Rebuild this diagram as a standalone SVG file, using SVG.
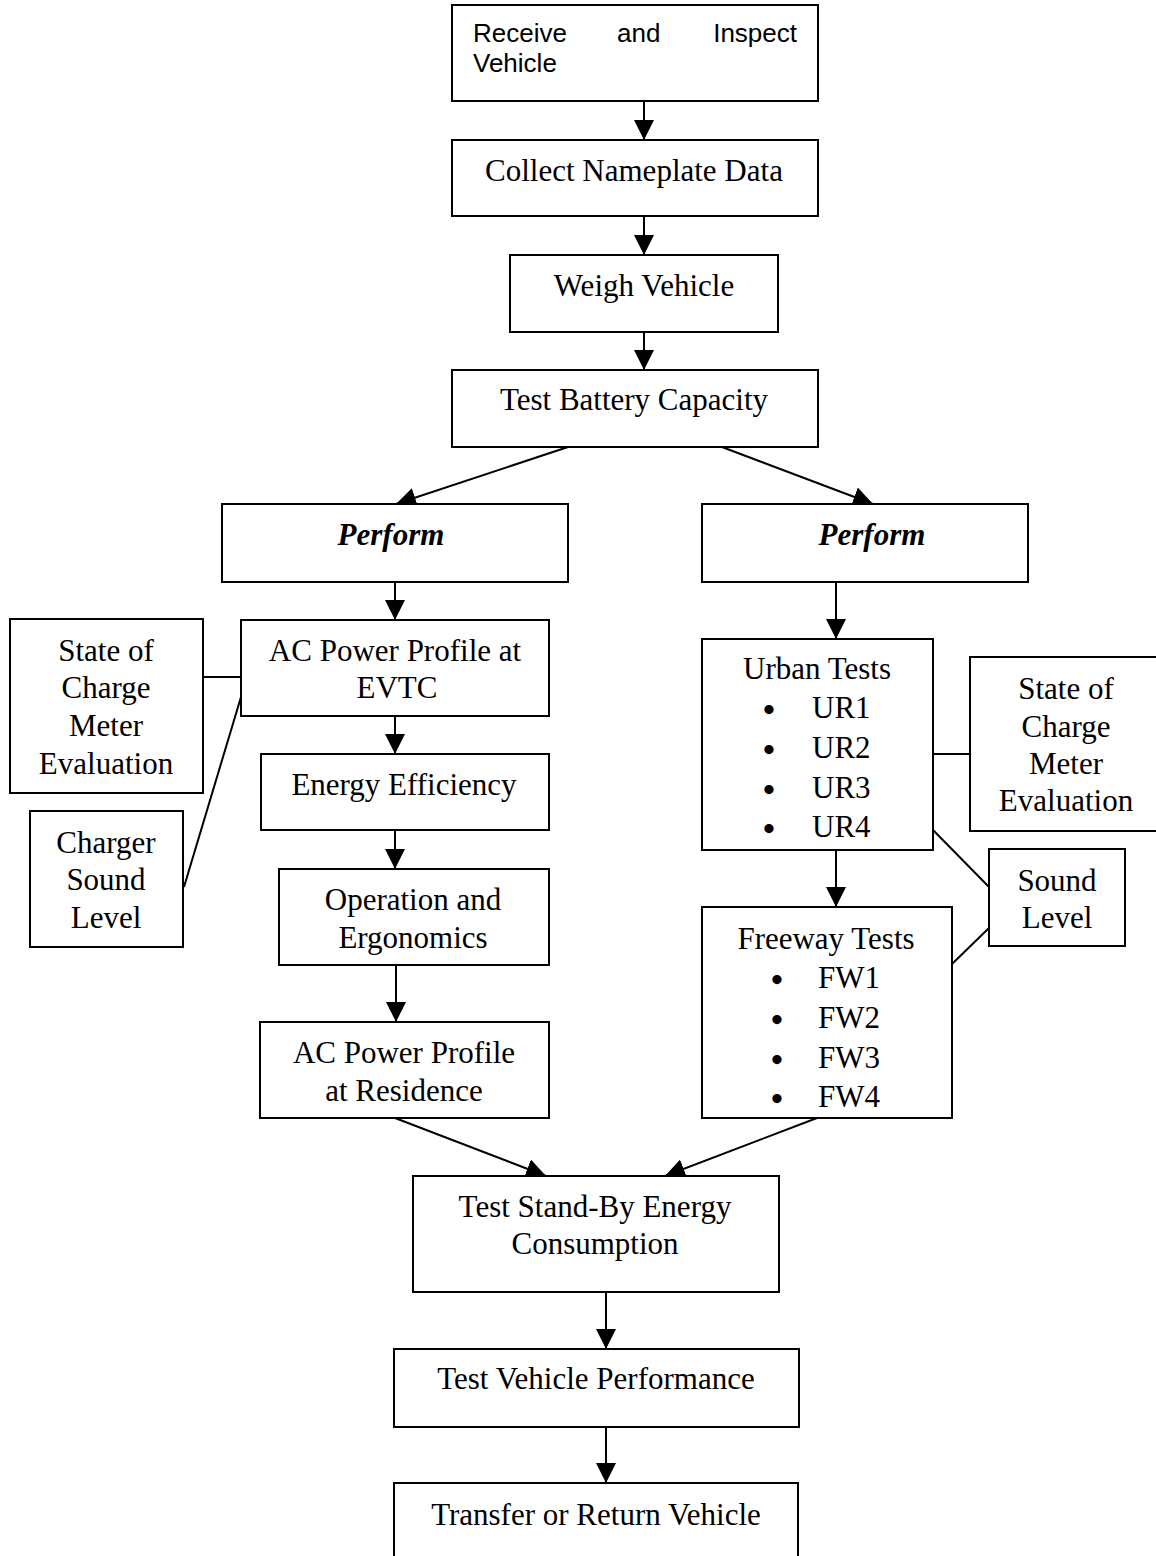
<svg xmlns="http://www.w3.org/2000/svg" width="1156" height="1556" viewBox="0 0 1156 1556">
<style>
.b{fill:#fff;stroke:#000;stroke-width:2}
.t{font-family:"Liberation Serif","Times New Roman",serif;font-size:31px;fill:#000;text-anchor:middle}
.l{font-family:"Liberation Serif","Times New Roman",serif;font-size:31px;fill:#000}
.d{font-size:34px;font-weight:bold}
.a{font-family:"Liberation Sans",Arial,sans-serif;font-size:26px;fill:#000}
.bi{font-weight:bold;font-style:italic}
.c{stroke:#000;stroke-width:2;fill:none}
.ar{marker-end:url(#ah)}
</style>
<defs>
<marker id="ah" markerUnits="userSpaceOnUse" markerWidth="22" markerHeight="22" refX="20" refY="11" orient="auto">
<path d="M0,1 L20,11 L0,21 z" fill="#000"/>
</marker>
</defs>
<rect width="1156" height="1556" fill="#fff"/>
<g id="connectors">
<line class="c ar" x1="644" y1="101" x2="644" y2="140"/>
<line class="c ar" x1="644" y1="216" x2="644" y2="255"/>
<line class="c ar" x1="644" y1="332" x2="644" y2="370"/>
<line class="c ar" x1="568" y1="447" x2="396" y2="504"/>
<line class="c ar" x1="722" y1="447" x2="873" y2="504"/>
<line class="c ar" x1="395" y1="582" x2="395" y2="620"/>
<line class="c ar" x1="395" y1="716" x2="395" y2="754"/>
<line class="c ar" x1="395" y1="830" x2="395" y2="869"/>
<line class="c ar" x1="396" y1="965" x2="396" y2="1022"/>
<line class="c ar" x1="836" y1="582" x2="836" y2="639"/>
<line class="c ar" x1="836" y1="850" x2="836" y2="907"/>
<line class="c ar" x1="395" y1="1118" x2="546" y2="1176"/>
<line class="c ar" x1="817" y1="1118" x2="665" y2="1176"/>
<line class="c ar" x1="606" y1="1292" x2="606" y2="1349"/>
<line class="c ar" x1="606" y1="1427" x2="606" y2="1483"/>
<line class="c" x1="203" y1="677" x2="241" y2="677"/>
<line class="c" x1="184" y1="887" x2="241" y2="697"/>
<line class="c" x1="933" y1="754" x2="970" y2="754"/>
<line class="c" x1="933" y1="830" x2="989" y2="887"/>
<line class="c" x1="952" y1="964" x2="989" y2="928"/>
</g>
<g id="receive">
<rect class="b" x="452" y="5" width="366" height="96"/>
<text class="a" x="473" y="42">Receive</text>
<text class="a" x="617" y="42">and</text>
<text class="a" x="797" y="42" text-anchor="end">Inspect</text>
<text class="a" x="473" y="72">Vehicle</text>
</g>
<g id="collect">
<rect class="b" x="452" y="140" width="366" height="76"/>
<text class="t" x="634" y="181">Collect Nameplate Data</text>
</g>
<g id="weigh">
<rect class="b" x="510" y="255" width="268" height="77"/>
<text class="t" x="644" y="296">Weigh Vehicle</text>
</g>
<g id="battery">
<rect class="b" x="452" y="370" width="366" height="77"/>
<text class="t" x="634" y="410">Test Battery Capacity</text>
</g>
<g id="performL">
<rect class="b" x="222" y="504" width="346" height="78"/>
<text class="t bi" x="391" y="545">Perform</text>
</g>
<g id="performR">
<rect class="b" x="702" y="504" width="326" height="78"/>
<text class="t bi" x="872" y="545">Perform</text>
</g>
<g id="socL">
<rect class="b" x="10" y="619" width="193" height="174"/>
<text class="t" x="106" y="661">State of</text>
<text class="t" x="106" y="698">Charge</text>
<text class="t" x="106" y="736">Meter</text>
<text class="t" x="106" y="774">Evaluation</text>
</g>
<g id="acEVTC">
<rect class="b" x="241" y="620" width="308" height="96"/>
<text class="t" x="395" y="661">AC Power Profile at</text>
<text class="t" x="397" y="698">EVTC</text>
</g>
<g id="charger">
<rect class="b" x="30" y="811" width="153" height="136"/>
<text class="t" x="106" y="853">Charger</text>
<text class="t" x="106" y="890">Sound</text>
<text class="t" x="106" y="928">Level</text>
</g>
<g id="energy">
<rect class="b" x="261" y="754" width="288" height="76"/>
<text class="t" x="404" y="795">Energy Efficiency</text>
</g>
<g id="operation">
<rect class="b" x="279" y="869" width="270" height="96"/>
<text class="t" x="413" y="910">Operation and</text>
<text class="t" x="413" y="948">Ergonomics</text>
</g>
<g id="residence">
<rect class="b" x="260" y="1022" width="289" height="96"/>
<text class="t" x="404" y="1063">AC Power Profile</text>
<text class="t" x="404" y="1101">at Residence</text>
</g>
<g id="urban">
<rect class="b" x="702" y="639" width="231" height="211"/>
<text class="l"><tspan x="817" y="679" text-anchor="middle">Urban Tests</tspan><tspan class="d" x="763" y="721">•</tspan><tspan x="812" y="718">UR1</tspan><tspan class="d" x="763" y="761">•</tspan><tspan x="812" y="758">UR2</tspan><tspan class="d" x="763" y="801">•</tspan><tspan x="812" y="798">UR3</tspan><tspan class="d" x="763" y="840">•</tspan><tspan x="812" y="837">UR4</tspan></text>
</g>
<g id="socR">
<rect class="b" x="970" y="657" width="200" height="174"/>
<text class="t" x="1066" y="699">State of</text>
<text class="t" x="1066" y="737">Charge</text>
<text class="t" x="1066" y="774">Meter</text>
<text class="t" x="1066" y="811">Evaluation</text>
</g>
<g id="sound">
<rect class="b" x="989" y="849" width="136" height="97"/>
<text class="t" x="1057" y="891">Sound</text>
<text class="t" x="1057" y="928">Level</text>
</g>
<g id="freeway">
<rect class="b" x="702" y="907" width="250" height="211"/>
<text class="l"><tspan x="826" y="949" text-anchor="middle">Freeway Tests</tspan><tspan class="d" x="771" y="991">•</tspan><tspan x="818" y="988">FW1</tspan><tspan class="d" x="771" y="1031">•</tspan><tspan x="818" y="1028">FW2</tspan><tspan class="d" x="771" y="1071">•</tspan><tspan x="818" y="1068">FW3</tspan><tspan class="d" x="771" y="1110">•</tspan><tspan x="818" y="1107">FW4</tspan></text>
</g>
<g id="standby">
<rect class="b" x="413" y="1176" width="366" height="116"/>
<text class="t" x="595" y="1217">Test Stand-By Energy</text>
<text class="t" x="595" y="1254">Consumption</text>
</g>
<g id="vehicle">
<rect class="b" x="394" y="1349" width="405" height="78"/>
<text class="t" x="596" y="1389">Test Vehicle Performance</text>
</g>
<g id="transfer">
<rect class="b" x="394" y="1483" width="404" height="90"/>
<text class="t" x="596" y="1525">Transfer or Return Vehicle</text>
</g>
</svg>
